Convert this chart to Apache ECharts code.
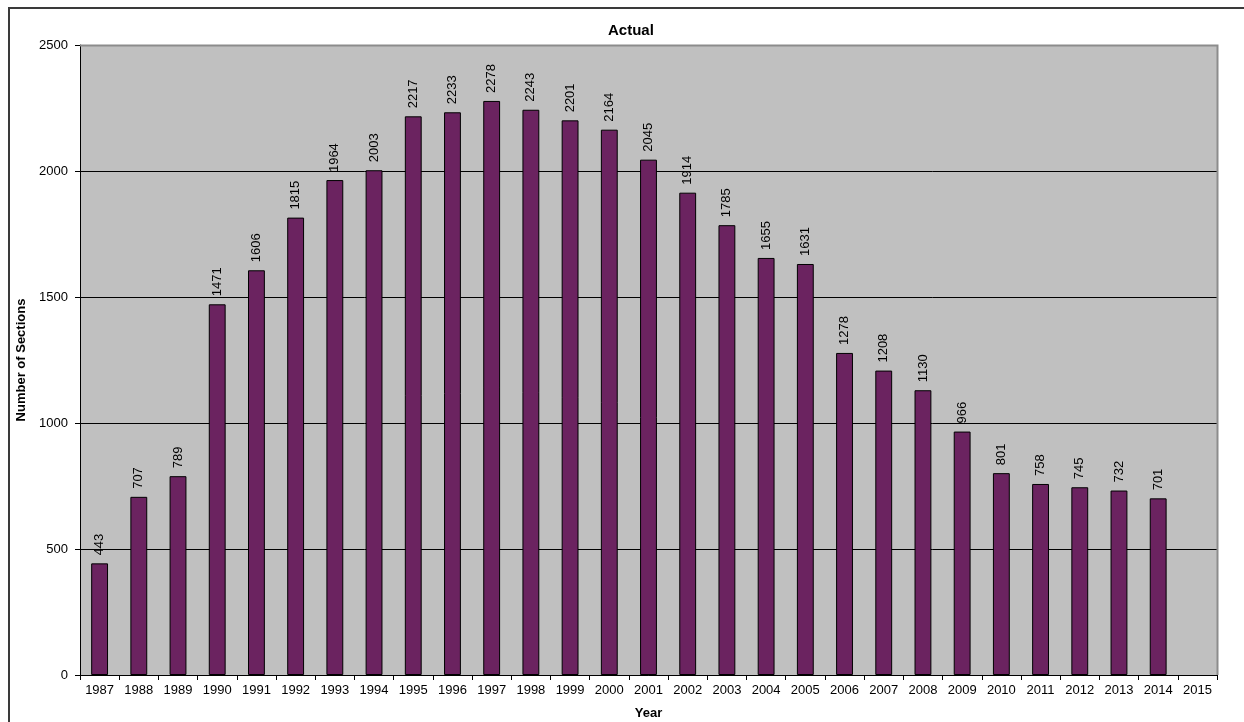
<!DOCTYPE html>
<html>
<head>
<meta charset="utf-8">
<script src="https://cdn.jsdelivr.net/npm/echarts@6/dist/echarts.min.js"></script>
<style>
  html, body { margin: 0; padding: 0; background: #fff; }
  #chart { width: 1244px; height: 722px; }
</style>
</head>
<body>
<div id="chart"></div>
<script>
// Years on the x axis (2015 has no bar yet)
const years = ['1987', '1988', '1989', '1990', '1991', '1992', '1993', '1994', '1995', '1996',
    '1997', '1998', '1999', '2000', '2001', '2002', '2003', '2004', '2005', '2006',
    '2007', '2008', '2009', '2010', '2011', '2012', '2013', '2014', '2015'];

// Number of sections per year
const sections = [443, 707, 789, 1471, 1606, 1815, 1964, 2003, 2217, 2233,
    2278, 2243, 2201, 2164, 2045, 1914, 1785, 1655, 1631, 1278,
    1208, 1130, 966, 801, 758, 745, 732, 701, null];

const font = 'Liberation Sans, Arial, sans-serif';

const chart = echarts.init(document.querySelector('#chart'));

chart.setOption({
    animation: false,
    title: {
        text: 'Actual',
        left: 603,
        top: 18,
        textStyle: { fontFamily: font, fontSize: 15, fontWeight: 'bold', color: '#000' }
    },
    graphic: [
        // outer frame of the chart
        {
            type: 'rect',
            shape: { x: 9, y: 8, width: 1300, height: 800 },
            style: { fill: 'none', stroke: '#3a3a3a', lineWidth: 2 },
            z: 0
        },
        // grey border on top / right of plot area
        {
            type: 'polyline',
            shape: { points: [[80, 45.5], [1217.5, 45.5], [1217.5, 675]] },
            style: { stroke: '#8c8c8c', lineWidth: 2, fill: 'none' },
            z: 1
        }
    ],
    grid: {
        left: 80,
        right: 27,
        top: 45,
        bottom: 47,
        outerBoundsMode: 'none',
        show: true,
        backgroundColor: '#c0c0c0',
        borderWidth: 0
    },
    xAxis: {
        type: 'category',
        data: years,
        name: 'Year',
        nameLocation: 'middle',
        nameGap: 32,
        nameTextStyle: { fontFamily: font, fontSize: 13, fontWeight: 'bold', color: '#000' },
        axisLine: { lineStyle: { color: '#000', width: 1 } },
        axisTick: { show: true, length: 5, lineStyle: { color: '#000' } },
        axisLabel: { fontFamily: font, fontSize: 13, color: '#000', margin: 9, interval: 0 }
    },
    yAxis: {
        type: 'value',
        min: 0,
        max: 2500,
        interval: 500,
        name: 'Number of Sections',
        nameLocation: 'middle',
        nameGap: 51,
        nameTextStyle: { fontFamily: font, fontSize: 13, fontWeight: 'bold', color: '#000' },
        axisLine: { show: true, lineStyle: { color: '#000', width: 1 } },
        axisTick: { show: true, length: 5, lineStyle: { color: '#000' } },
        axisLabel: { fontFamily: font, fontSize: 13, color: '#000', margin: 12, formatter: (v) => String(v) },
        splitLine: { lineStyle: { color: '#000', width: 1 } }
    },
    series: [{
        type: 'bar',
        data: sections,
        barWidth: '43%',
        itemStyle: { color: '#6b2360', borderColor: '#000', borderWidth: 1 },
        label: {
            show: true,
            position: 'top',
            rotate: 90,
            align: 'left',
            verticalAlign: 'middle',
            distance: 8,
            fontFamily: font,
            fontSize: 13,
            color: '#000'
        }
    }]
});
</script>
</body>
</html>
